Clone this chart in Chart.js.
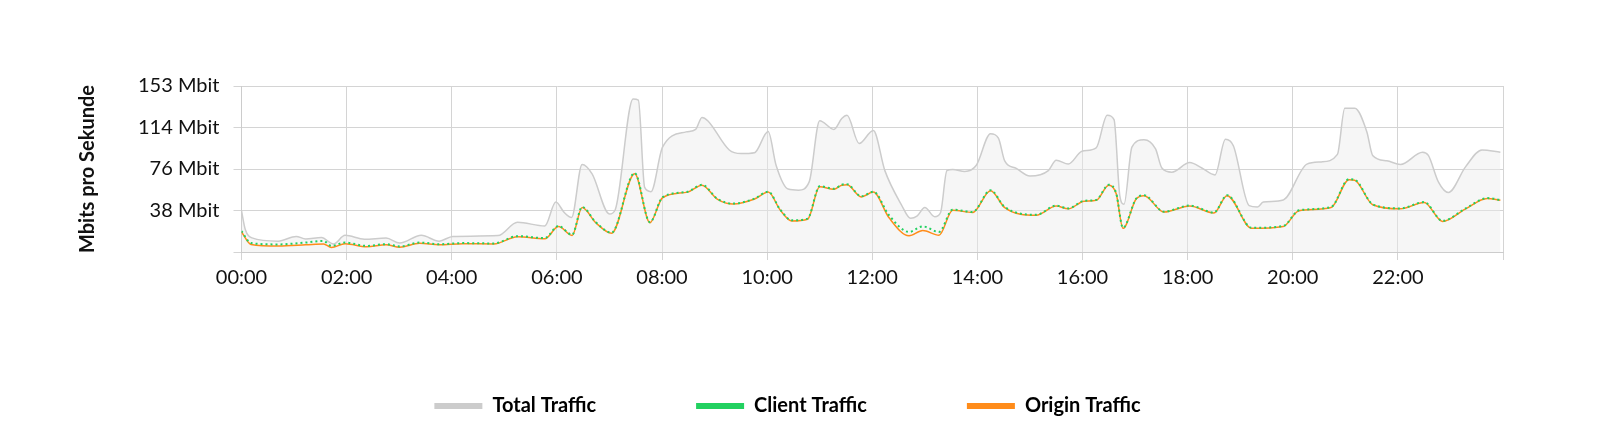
<!DOCTYPE html>
<html>
<head>
<meta charset="utf-8">
<script src="https://cdn.jsdelivr.net/npm/chart.js@4/dist/chart.umd.min.js"></script>
<style>
  html, body { margin: 0; padding: 0; background: #fff; }
  #wrap { width: 1600px; height: 446px; }
</style>
</head>
<body>
<div id="wrap"><canvas id="trafficChart"></canvas></div>
<script>
  // hours of day, Mbit/s
  const totalHours = [0,0.07,0.2,0.7,1.04,1.22,1.52,1.75,1.97,2.34,2.75,3.01,3.42,3.76,4.02,4.88,5.25,5.77,5.98,6.14,6.28,6.48,6.67,7.0,7.11,7.45,7.55,7.67,7.79,8.01,8.46,8.64,8.76,8.87,9.28,9.5,9.76,10.02,10.17,10.4,10.6,10.8,11.0,11.27,11.42,11.52,11.75,12.02,12.24,12.55,12.73,12.85,13.0,13.19,13.3,13.42,13.53,13.76,13.98,14.25,14.4,14.52,14.74,15.0,15.35,15.5,15.73,15.99,16.26,16.47,16.6,16.71,16.79,16.94,17.17,17.39,17.51,17.7,18.04,18.27,18.52,18.72,18.87,19.17,19.33,19.44,19.82,20.27,20.54,20.85,20.99,21.18,21.41,21.52,21.79,22.05,22.47,22.58,22.77,22.96,23.29,23.6,23.95];
  const totalValues = [38,21,13,10,14.4,12,13.3,7.4,15.4,11.8,12.8,8.2,15.4,10,14.4,15.1,27.4,24,46,36.4,31.8,80.7,72,35,39,141,140,59.5,55.6,96.6,110.7,113,124,121,94,90.7,91.5,111,80,58,57,64.6,121,113,123,126,100,112,75,44,31,33,41,32.5,36.4,75,76,74.3,80,109,105,84,77,70,75,84.6,81,92.8,96,126,122,51.8,44,96.6,103.5,95,77.4,73.6,82.5,77.4,71,104,98,42.8,41.5,46,48,81,83,90,132.5,132.5,110.7,89,84,80.7,92,89,64.6,54.8,78.7,94,92];

  const clientHours = [0,0.18,0.7,1.22,1.56,1.71,1.97,2.38,2.75,3.01,3.39,3.76,4.21,4.8,5.25,5.77,6.03,6.29,6.48,6.74,7.04,7.48,7.77,8.01,8.49,8.76,9.05,9.35,9.76,10.02,10.25,10.47,10.77,11.0,11.27,11.42,11.52,11.79,12.02,12.32,12.7,12.96,13.27,13.53,13.91,14.25,14.52,15.12,15.5,15.73,16.03,16.26,16.5,16.64,16.77,17.02,17.17,17.55,18.04,18.5,18.75,19.22,19.82,20.12,20.73,21.07,21.18,21.52,22.05,22.5,22.85,23.29,23.7,23.95];
  const clientValues = [19.2,8.2,7,8.7,10.2,5.6,8.7,5.6,7.2,5.1,8.7,7.2,8.2,7.9,14.6,12.8,24,15.9,41.5,27.4,17.9,72.8,27.4,50.5,55.6,62,49.2,44.6,49.2,55.6,39,29.2,30.8,60.7,58.2,62,62.5,51.3,55.6,33.8,18.5,23.6,18.5,39,36.9,56.9,41.5,34.3,42.8,40.2,47.2,48,62,54.3,22.3,49.2,52.3,37.2,42.8,36.4,52.3,22.3,24,38.4,41.5,67.1,66.6,44,40.2,46,28.7,40.2,49.7,48];
  const originValues = [18.5,7,5.6,6.6,7.4,4.2,7.6,4.8,6.6,4.4,8,6.6,7.6,7.4,14,12.2,23.4,15.3,41,27,17.3,72.2,27,50,55.2,61.6,48.8,44.2,48.8,55.2,38.6,28.6,30.2,60.2,57.8,61.6,62,50.8,55.2,31.5,15,19.8,15.5,38.4,36.5,56.5,41,33.8,42.3,39.8,46.8,47.6,61.6,53.9,21.8,48.8,51.9,36.8,42.4,36,51.9,21.8,23.6,38,41,66.7,66.2,43.6,39.8,45.6,28.2,39.8,49.3,47.6];

  const yTicks = [0, 38.25, 76.5, 114.75, 153];

  function pairs(xs, ys) {
    return xs.map((x, i) => ({ x: x, y: ys[i] }));
  }

  Chart.defaults.font.family = 'Lato, "Open Sans", sans-serif';
  Chart.defaults.font.size = 20;
  Chart.defaults.color = '#111';

  const ctx = document.getElementById('trafficChart');
  const trafficChart = new Chart(ctx, {
    type: 'line',
    data: {
      datasets: [{
        label: 'Total Traffic',
        data: pairs(totalHours, totalValues),
        borderColor: '#cccccc',
        backgroundColor: 'rgba(235,235,235,0.45)',
        fill: 'origin',
        borderWidth: 1.5,
        order: 3
      }, {
        label: 'Client Traffic',
        data: pairs(clientHours, clientValues),
        borderColor: '#22d160',
        backgroundColor: '#22d160',
        borderDash: [2, 3],
        borderWidth: 2,
        fill: false,
        order: 1
      }, {
        label: 'Origin Traffic',
        data: pairs(clientHours, originValues),
        borderColor: '#ff8c1a',
        backgroundColor: '#ff8c1a',
        borderWidth: 1.5,
        fill: false,
        order: 2
      }]
    },
    options: {
      responsive: true,
      maintainAspectRatio: false,
      animation: false,
      elements: { point: { radius: 0 }, line: { cubicInterpolationMode: 'monotone' } },
      layout: { padding: { left: 72, right: 97, top: 86, bottom: 20 } },
      plugins: {
        tooltip: { enabled: false },
        legend: {
          position: 'bottom',
          labels: {
            boxWidth: 48,
            boxHeight: 6,
            padding: 100,
            font: { weight: 'bold', size: 20 },
            generateLabels: function (chart) {
              return chart.data.datasets.map((ds, i) => ({
                text: ds.label,
                fillStyle: ds.borderColor,
                strokeStyle: ds.borderColor,
                lineWidth: 0,
                datasetIndex: i
              }));
            }
          }
        }
      },
      scales: {
        x: {
          type: 'linear',
          min: 0,
          max: 24,
          grid: { color: '#d4d4d4' },
          border: { color: '#cccccc' },
          ticks: {
            stepSize: 2,
            padding: 6,
            font: { size: 20 },
            callback: function (v) {
              if (v >= 24) return '';
              return String(v).padStart(2, '0') + ':00';
            }
          }
        },
        y: {
          min: 0,
          max: 153,
          afterBuildTicks: function (axis) {
            axis.ticks = yTicks.map(v => ({ value: v }));
          },
          grid: { color: '#d4d4d4' },
          border: { color: '#cccccc' },
          ticks: {
            padding: 14,
            font: { size: 20 },
            callback: function (v) {
              return v === 0 ? '' : Math.floor(v) + ' Mbit';
            }
          },
          title: {
            display: true,
            text: 'Mbits pro Sekunde',
            font: { weight: 'bold', size: 20 },
            padding: { bottom: 24 }
          }
        }
      }
    }
  });
</script>
</body>
</html>
